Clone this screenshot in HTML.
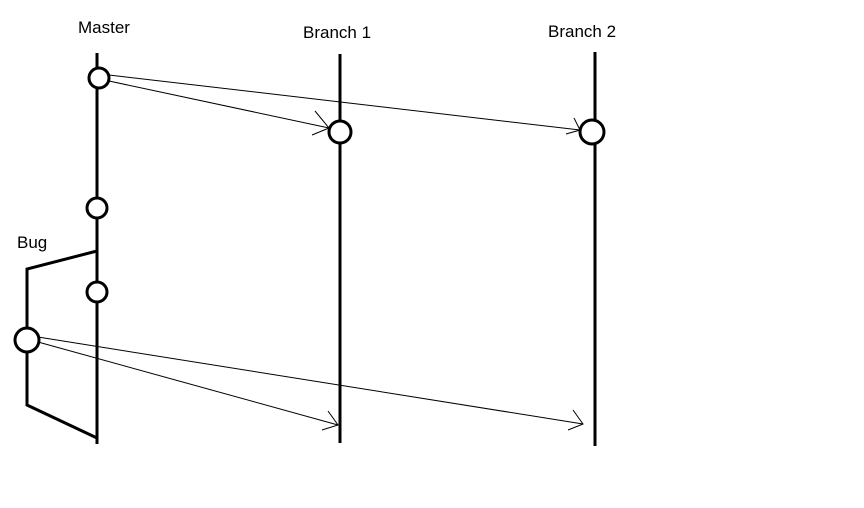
<!DOCTYPE html>
<html><head><style>
html,body{margin:0;padding:0;background:#fff;width:864px;height:508px;overflow:hidden}
svg{display:block}
text{font-family:"Liberation Sans",sans-serif;font-size:17px;fill:#000}
</style></head><body>
<svg width="864" height="508" viewBox="0 0 864 508">
<text x="78" y="33">Master</text>
<text x="303" y="38">Branch 1</text>
<text x="548" y="37">Branch 2</text>
<text x="17" y="248">Bug</text>
<g stroke="#000" stroke-width="3" fill="none">
<line x1="97" y1="53" x2="97" y2="444"/>
<line x1="340" y1="54" x2="340" y2="443"/>
<line x1="595" y1="52" x2="595" y2="446"/>
<polyline points="97,251 27,269 27,405 97,438"/>
</g>
<g stroke="#000" stroke-width="1" fill="none">
<line x1="109" y1="75" x2="580" y2="130"/>
<polyline points="574,118 580,130 566,134"/>
<line x1="109" y1="81" x2="329" y2="128"/>
<polyline points="315,111 329,128 312,135"/>
<line x1="38" y1="337" x2="583" y2="424"/>
<polyline points="573,410 583,424 568,430"/>
<line x1="38" y1="342" x2="338" y2="425"/>
<polyline points="328,411 338,425 322,430"/>
</g>
<g stroke="#000" stroke-width="3" fill="#fff">
<circle cx="99" cy="78" r="10"/>
<circle cx="340" cy="132" r="11"/>
<circle cx="592" cy="132" r="12"/>
<circle cx="97" cy="208" r="10"/>
<circle cx="97" cy="292" r="10"/>
<circle cx="27" cy="340" r="12"/>
</g>
</svg>
</body></html>
